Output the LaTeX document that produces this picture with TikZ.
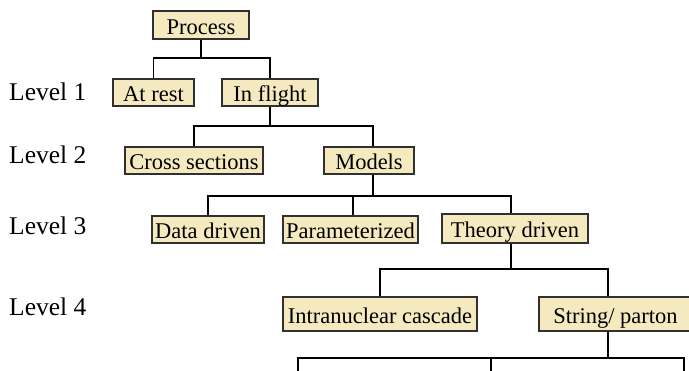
\documentclass[tikz,border=0pt]{standalone}
\usepackage{fontspec}
\setmainfont{Liberation Serif}
\definecolor{boxfill}{HTML}{F4E9BF}
\definecolor{boxline}{HTML}{303030}
\begin{document}
\begin{tikzpicture}[x=1pt,y=-1pt,
  box/.style={draw=boxline, line width=1.5pt, fill=boxfill, rectangle, inner sep=0pt,
    text height=19pt, text depth=0.5pt, font=\fontsize{22.5}{24}\selectfont},
  conn/.style={draw=black, line width=1.6pt},
  lvl/.style={anchor=base west, inner sep=0pt, font=\fontsize{25.5}{27}\selectfont}]
\useasboundingbox (0,0) rectangle (689,371);
\fill[white] (0,0) rectangle (689,371);

% level labels
\node[lvl] (l1) at (9,101) {Level 1};
\node[lvl] (l2) at (9,164) {Level 2};
\node[lvl] (l3) at (9,235) {Level 3};
\node[lvl] (l4) at (9,316) {Level 4};

% boxes
\node[box, minimum width=96pt, minimum height=28pt] (proc) at (201,25) {Process};
\node[box, minimum width=81pt, minimum height=27pt] (rest) at (153.5,92.5) {At rest};
\node[box, minimum width=96pt, minimum height=27pt] (flight) at (270,92.5) {In flight};
\node[box, minimum width=138pt, minimum height=27pt] (cross) at (194,160.5) {Cross sections};
\node[box, minimum width=90pt, minimum height=27pt] (models) at (369,160.5) {Models};
\node[box, minimum width=112pt, minimum height=27pt] (data) at (208,229.5) {Data driven};
\node[box, minimum width=135pt, minimum height=27pt] (param) at (350.5,229.5) {Parameterized};
\node[box, minimum width=146pt, minimum height=29pt] (theory) at (515,228.5) {Theory driven};
\node[box, minimum width=194pt, minimum height=34pt] (intra) at (380,314) {Intranuclear cascade};
\node[box, minimum width=153pt, minimum height=34pt] (string) at (615.5,314) {String/ parton};

% junction coordinates
\coordinate (b1) at (201,58);
\coordinate (b2) at (270,126);
\coordinate (b3) at (373,196);
\coordinate (b4) at (511,269);
\coordinate (b5) at (608,358);
\coordinate (c1) at (298,380);
\coordinate (c2) at (491,380);
\coordinate (c3) at (684,380);

% connectors
\draw[conn] (proc.south) -- (b1);
\draw[conn] (rest.north) -- (rest.north |- b1) -- (flight.north |- b1) -- (flight.north);

\draw[conn] (flight.south) -- (b2);
\draw[conn] (cross.north) -- (cross.north |- b2) -- ([xshift=4pt]models.north |- b2) -- ([xshift=4pt]models.north);

\draw[conn] ([xshift=4pt]models.south) -- (b3);
\draw[conn] (data.north) -- (data.north |- b3) -- ([xshift=-4pt]theory.north |- b3) -- ([xshift=-4pt]theory.north);
\draw[conn] ([xshift=2.5pt]param.north) -- ([xshift=2.5pt]param.north |- b3);

\draw[conn] ([xshift=-4pt]theory.south) -- (b4);
\draw[conn] (intra.north) -- (intra.north |- b4) -- ([xshift=-7.5pt]string.north |- b4) -- ([xshift=-7.5pt]string.north);

\draw[conn] ([xshift=-7.5pt]string.south) -- (b5);
\draw[conn] (c1) -- (c1 |- b5) -- (c3 |- b5) -- (c3);
\draw[conn] (c2) -- (c2 |- b5);
\end{tikzpicture}
\end{document}
